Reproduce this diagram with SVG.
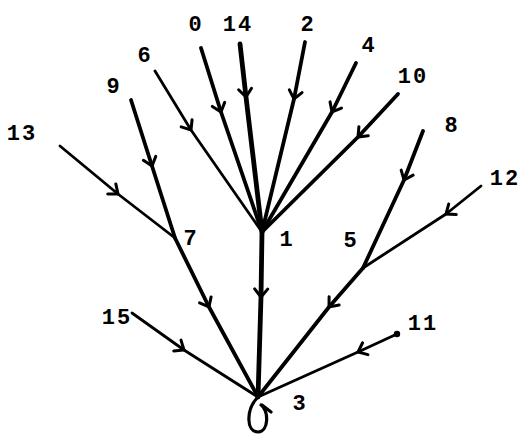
<svg xmlns="http://www.w3.org/2000/svg" width="522" height="436" viewBox="0 0 522 436">
<style>
.e{fill:none;stroke:#000;stroke-linecap:round;stroke-linejoin:round;marker-mid:url(#arr)}
.t1{stroke-width:2.8}.t2{stroke-width:3.8}.t3{stroke-width:4.8}
text{font-family:"Liberation Mono","DejaVu Sans Mono",monospace;font-weight:bold;font-size:22px;fill:#000;text-anchor:middle;letter-spacing:2px}
</style>
<defs>
<marker id="arr" markerUnits="userSpaceOnUse" orient="auto" markerWidth="20" markerHeight="20" refX="0" refY="0" viewBox="-10 -10 20 20" overflow="visible">
<path d="M-8,-6.5 L0,0 L-8,6.5" fill="none" stroke="#000" stroke-width="3" stroke-linecap="round"/>
</marker>
</defs>
<rect width="522" height="436" fill="#fff"/>
<g id="connectors">
<path class="e t2" d="M201,48 L221,112 L262,232"/>
<path class="e t3" d="M240,44 L246,97 L262,232"/>
<path class="e t2" d="M305,42 L294,99 L262,232"/>
<path class="e t2" d="M356,63 L332,112 L262,232"/>
<path class="e t2" d="M398,94 L358,137 L262,232"/>
<path class="e t1" d="M155,71 L191,130 L262,232"/>
<path class="e t2" d="M131,100 L152,166 L175,238"/>
<path class="e t1" d="M60,146 L118,194 L175,238"/>
<path class="e t2" d="M175,238 L209,307 L258,397"/>
<path class="e t1" d="M132,313 L184,350 L258,397"/>
<path class="e t3" d="M262,232 L261,297 L258,397"/>
<path class="e t2" d="M423,131 L404,180 L363,268"/>
<path class="e t1" d="M481,186 L446,214 L363,268"/>
<path class="e t2" d="M363,268 L329,307 L258,397"/>
<path class="e t1" d="M397,334 L358,352 L258,397"/>
<path d="M257,398 C246,410 246,432 258,432 C269,432 269,410 261,405 M262,405 L271,412" fill="none" stroke="#000" stroke-width="3.2" stroke-linecap="round"/>
</g>
<g id="n0"><text x="196" y="31">0</text></g>
<g id="n14"><text x="238" y="31">14</text></g>
<g id="n2"><text x="308" y="31">2</text></g>
<g id="n4"><text x="369" y="52">4</text></g>
<g id="n10"><text x="413" y="83">10</text></g>
<g id="n8"><text x="452" y="132">8</text></g>
<g id="n12"><text x="505" y="185">12</text></g>
<g id="n13"><text x="22" y="140">13</text></g>
<g id="n9"><text x="114" y="93">9</text></g>
<g id="n6"><text x="145" y="62">6</text></g>
<g id="n7"><text x="191" y="245">7</text></g>
<g id="n1"><text x="287" y="246">1</text></g>
<g id="n5"><text x="351" y="247">5</text></g>
<g id="n15"><text x="117" y="324">15</text></g>
<g id="n11"><text x="423" y="330">11</text><circle cx="397" cy="334" r="3.2"/></g>
<g id="n3"><text x="300" y="410">3</text></g>
</svg>
